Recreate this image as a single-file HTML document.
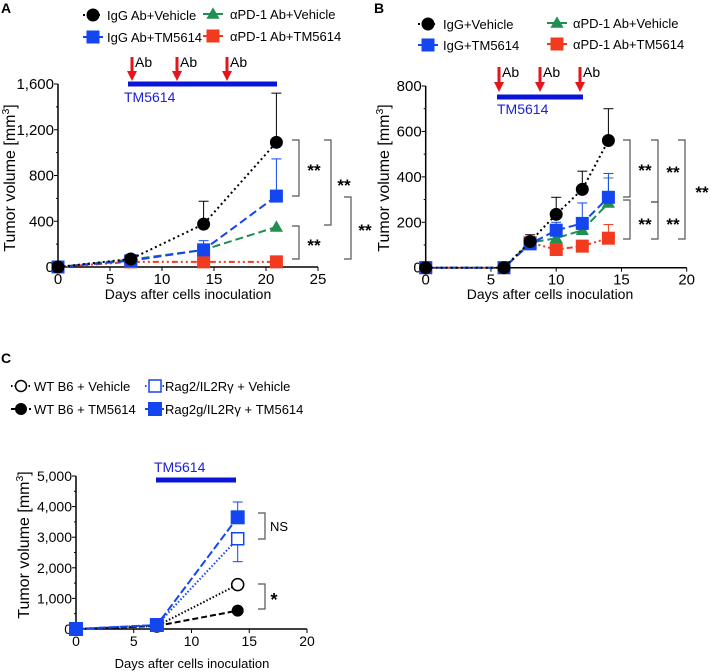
<!DOCTYPE html>
<html><head><meta charset="utf-8"><style>
body{margin:0;background:#fff;}
svg{display:block;font-family:"Liberation Sans",Arial,sans-serif;}
</style></head><body>
<svg id="fig" width="711" height="672" viewBox="0 0 711 672">
</svg>
<script>
// ---------- Panel A data ----------
const daysA = [0, 7, 14, 21];
const igVehA = [0, 70, 375, 1090];
const igVehErrA = [0, 100, 575, 1520];
const igTmA = [0, 55, 150, 620];
const igTmErrA = [0, 60, 230, 945];
const pdVehA = [0, 65, 150, 350];
const pdVehErrA = [0, 70, 160, 350];
const pdTmA = [0, 45, 45, 45];
const pdTmErrA = [0, 45, 45, 45];
const xTicksA = [0, 5, 10, 15, 20, 25];
const yTicksA = [0, 400, 800, 1200, 1600];
const yTickLabelsA = ["0", "400", "800", "1,200", "1,600"];
// ---------- Panel B data ----------
const daysB = [0, 6, 8, 10, 12, 14];
const igVehB = [0, 0, 115, 235, 345, 560];
const igVehErrB = [0, 0, 145, 310, 425, 700];
const igTmB = [0, 0, 105, 165, 195, 310];
const igTmErrB = [0, 0, 105, 200, 285, 415];
const pdVehB = [0, 0, 110, 130, 165, 285];
const pdVehErrB = [0, 0, 110, 130, 165, 395];
const pdTmB = [0, 0, 110, 80, 95, 130];
const pdTmErrB = [0, 0, 110, 80, 95, 190];
const xTicksB = [0, 5, 10, 15, 20];
const yTicksB = [0, 200, 400, 600, 800];
const yTickLabelsB = ["0", "200", "400", "600", "800"];
// ---------- Panel C data ----------
const daysC = [0, 7, 14];
const wtVehC = [0, 100, 1450];
const wtTmC = [0, 100, 600];
const ragVehC = [0, 130, 2950];
const ragVehErrLowC = [0, 130, 2200];
const ragTmC = [0, 130, 3650];
const ragTmErrC = [0, 130, 4150];
const xTicksC = [0, 5, 10, 15, 20];
const yTicksC = [0, 1000, 2000, 3000, 4000, 5000];
const yTickLabelsC = ["0", "1,000", "2,000", "3,000", "4,000", "5,000"];

const svg = document.getElementById('fig');
const NS = 'http://www.w3.org/2000/svg';
function mk(tag, attrs, parent, text) {
  const e = document.createElementNS(NS, tag);
  for (const k in attrs) e.setAttribute(k, attrs[k]);
  if (text !== undefined) e.textContent = text;
  (parent || svg).appendChild(e);
  return e;
}
function lin(d0, d1, r0, r1) { return v => r0 + (v - d0) / (d1 - d0) * (r1 - r0); }

function axes(g, X, Y, xmax, ymax, xTicks, yTicks, yLabels, minor, fs) {
  const x0 = X(0), y0 = Y(0);
  let e = mk('line', {x1: x0, y1: Y(ymax), x2: x0, y2: y0, stroke: '#000', 'stroke-width': 1.5}, g);
  
  
  e = mk('line', {x1: x0, y1: y0, x2: X(xmax), y2: y0, stroke: '#000', 'stroke-width': 1.5}, g);
  
  
  xTicks.forEach(t => {
    mk('line', {x1: X(t), y1: y0, x2: X(t), y2: y0 + 4, stroke: '#000'}, g);
    e = mk('text', {x: X(t), y: y0 + 17, 'text-anchor': 'middle', 'font-size': fs}, g, String(t));
    
    
  });
  yTicks.forEach((t, i) => {
    mk('line', {x1: x0 - 4, y1: Y(t), x2: x0, y2: Y(t), stroke: '#000'}, g);
    if (minor && i < yTicks.length - 1) {
      const m = (t + yTicks[i + 1]) / 2;
      mk('line', {x1: x0 - 2, y1: Y(m), x2: x0, y2: Y(m), stroke: '#000'}, g);
    }
    e = mk('text', {x: x0 - 4, y: Y(t) + 5, 'text-anchor': 'end', 'font-size': fs}, g, yLabels[i]);
    
    
  });
}
function ytitle(g, x, y, fs) {
  const t = mk('text', {x: x, y: y, 'text-anchor': 'middle', 'font-size': fs, transform: `rotate(-90 ${x} ${y})`}, g);
  
  
  t.appendChild(document.createTextNode('Tumor volume [mm'));
  mk('tspan', {'font-size': fs * 0.65, dy: -6}, t, '3');
  mk('tspan', {dy: 6}, t, ']');
}
function xtitle(g, x, y, fs) {
  const e = mk('text', {x: x, y: y, 'text-anchor': 'middle', 'font-size': fs}, g, 'Days after cells inoculation');
  
  
}
function marker(g, kind, x, y, color, s, hollow) {
  let e;
  if (kind === 'c') e = mk('circle', {cx: x, cy: y, r: s, fill: hollow ? '#fff' : color, stroke: color, 'stroke-width': hollow ? 1.5 : 1}, g);
  else if (kind === 's') e = mk('rect', {x: x - s, y: y - s, width: 2 * s, height: 2 * s, fill: hollow ? '#fff' : color, stroke: color, 'stroke-width': hollow ? 1.5 : 1}, g);
  else e = mk('path', {d: `M${x},${y - s * 1.1} L${x + s * 1.1},${y + s * 0.8} L${x - s * 1.1},${y + s * 0.8} Z`, fill: color}, g);
  
  
  return e;
}
function series(g, name, X, Y, xs, ys, errs, color, dash, kind, s, hollow, errLow) {
  const sg = mk('g', {}, g);
  
  
  if (errs) xs.forEach((d, i) => {
    if (errs[i] > ys[i]) {
      mk('line', {x1: X(d), y1: Y(ys[i]), x2: X(d), y2: Y(errs[i]), stroke: color, 'stroke-width': 1}, sg);
      mk('line', {x1: X(d) - 5, y1: Y(errs[i]), x2: X(d) + 5, y2: Y(errs[i]), stroke: color, 'stroke-width': 1}, sg);
    }
  });
  if (errLow) xs.forEach((d, i) => {
    if (errLow[i] < ys[i]) {
      mk('line', {x1: X(d), y1: Y(ys[i]), x2: X(d), y2: Y(errLow[i]), stroke: color, 'stroke-width': 1}, sg);
      mk('line', {x1: X(d) - 5, y1: Y(errLow[i]), x2: X(d) + 5, y2: Y(errLow[i]), stroke: color, 'stroke-width': 1}, sg);
    }
  });
  const pts = xs.map((d, i) => X(d) + ',' + Y(ys[i])).join(' ');
  const l = mk('polyline', {points: pts, fill: 'none', stroke: color, 'stroke-width': 2, 'stroke-dasharray': dash}, sg);
  
  
  xs.forEach((d, i) => marker(sg, kind, X(d), Y(ys[i]), color, s, hollow));
}
function legendEntry(g, name, x, y, label, color, dash, kind, s, hollow, fs, tx) {
  const lg = mk('g', {}, g);
  
  
  mk('line', {x1: x - 10, y1: y, x2: x + 10, y2: y, stroke: color, 'stroke-width': 2, 'stroke-dasharray': dash}, lg);
  marker(lg, kind, x, y, color, s, hollow);
  mk('text', {x: tx || (x + 14), y: y + 5, 'font-size': fs}, lg, label);
}
function bracket(g, x, y1, y2, label, lx, ly, fs) {
  const b = mk('g', {}, g);
  
  
  mk('polyline', {points: `${x - 7},${y1} ${x},${y1} ${x},${y2} ${x - 7},${y2}`, fill: 'none', stroke: '#555', 'stroke-width': 1.2}, b);
  mk('text', {x: lx, y: ly, 'text-anchor': 'middle', 'font-size': fs, 'font-weight': 'bold'}, b, label);
}
function arrow(g, x, y1, y2) {
  const a = mk('g', {}, g);
  
  
  mk('line', {x1: x, y1: y1, x2: x, y2: y2 - 8, stroke: '#e8141c', 'stroke-width': 3}, a);
  mk('path', {d: `M${x - 5},${y2 - 10} L${x + 5},${y2 - 10} L${x},${y2} Z`, fill: '#e8141c'}, a);
  mk('text', {x: x + 3, y: y1 + 10, 'font-size': 14}, a, 'Ab');
}
function tmBar(g, x1, x2, y, tx, ty, fs) {
  const b = mk('g', {}, g);
  
  
  mk('line', {x1: x1, y1: y, x2: x2, y2: y, stroke: '#0a14d8', 'stroke-width': 5}, b);
  mk('text', {x: tx, y: ty, 'font-size': fs, fill: '#1a22d8'}, b, 'TM5614');
}
const BLK = '#000', BLU = '#1446f0', GRN = '#1f8f52', RED = '#f23a1e';

// ---------- Panel A ----------
(function () {
  const g = mk('g', {});  
  const X = lin(0, 25, 58, 318), Y = lin(0, 1600, 267, 84);
  mk('text', {x: 1, y: 13, 'font-size': 14, 'font-weight': 'bold'}, g, 'A');
  axes(g, X, Y, 25, 1600, xTicksA, yTicksA, yTickLabelsA, true, 15);
  ytitle(g, 15, 178, 16); xtitle(g, 188, 299, 14);
  tmBar(g, 128, 277, 84, 124, 102, 14);
  [132, 177, 227].forEach(x => arrow(g, x, 57, 81));
  series(g, 'series-pd1-tm5614', X, Y, daysA, pdTmA, pdTmErrA, RED, '6 3 2 3 2 3', 's', 6);
  series(g, 'series-pd1-vehicle', X, Y, daysA, pdVehA, pdVehErrA, GRN, '8 4', 't', 6);
  series(g, 'series-igg-tm5614', X, Y, daysA, igTmA, igTmErrA, BLU, '8 4', 's', 6);
  series(g, 'series-igg-vehicle', X, Y, daysA, igVehA, igVehErrA, BLK, '2 3', 'c', 6);
  legendEntry(g, 'legend-igg-vehicle', 93, 15, 'IgG Ab+Vehicle', BLK, '2 3', 'c', 6, false, 13, 107);
  legendEntry(g, 'legend-pd1-vehicle', 213, 14, 'αPD-1 Ab+Vehicle', GRN, '8 4', 't', 6, false, 13, 230);
  legendEntry(g, 'legend-igg-tm5614', 93, 37, 'IgG Ab+TM5614', BLU, '8 4', 's', 6, false, 13, 107);
  legendEntry(g, 'legend-pd1-tm5614', 213, 36, 'αPD-1 Ab+TM5614', RED, '6 3 2 3', 's', 6, false, 13, 230);
  bracket(g, 299, 140, 196, '**', 314, 176, 17);
  bracket(g, 331, 140, 225, '**', 344, 191, 17);
  bracket(g, 299, 226, 259, '**', 314, 251, 17);
  bracket(g, 351, 197, 259, '**', 365, 236, 17);
})();

// ---------- Panel B ----------
(function () {
  const g = mk('g', {});  
  const X = lin(0, 20, 425.7, 686.7), Y = lin(0, 800, 267.7, 86);
  mk('text', {x: 374, y: 13, 'font-size': 14, 'font-weight': 'bold'}, g, 'B');
  axes(g, X, Y, 20, 800, xTicksB, yTicksB, yTickLabelsB, true, 15);
  ytitle(g, 389, 178, 16); xtitle(g, 550, 299, 14);
  tmBar(g, 497, 583, 97, 497, 114, 14);
  [499, 540, 580].forEach(x => arrow(g, x, 67, 92));
  series(g, 'series-pd1-tm5614', X, Y, daysB, pdTmB, pdTmErrB, RED, '6 3 2 3 2 3', 's', 6);
  series(g, 'series-pd1-vehicle', X, Y, daysB, pdVehB, pdVehErrB, GRN, '8 4', 't', 6);
  series(g, 'series-igg-tm5614', X, Y, daysB, igTmB, igTmErrB, BLU, '8 4', 's', 6);
  series(g, 'series-igg-vehicle', X, Y, daysB, igVehB, igVehErrB, BLK, '2 3', 'c', 6);
  legendEntry(g, 'legend-igg-vehicle', 428, 24, 'IgG+Vehicle', BLK, '2 3', 'c', 6, false, 13, 443);
  legendEntry(g, 'legend-pd1-vehicle', 557, 23, 'αPD-1 Ab+Vehicle', GRN, '8 4', 't', 6, false, 13, 573);
  legendEntry(g, 'legend-igg-tm5614', 428, 45, 'IgG+TM5614', BLU, '8 4', 's', 6, false, 13, 443);
  legendEntry(g, 'legend-pd1-tm5614', 557, 44, 'αPD-1 Ab+TM5614', RED, '6 3 2 3', 's', 6, false, 13, 573);
  bracket(g, 630, 140, 197, '**', 645, 176, 17);
  bracket(g, 658, 140, 202, '**', 673, 178, 17);
  bracket(g, 685, 140, 239, '**', 702, 198, 17);
  bracket(g, 630, 200, 239, '**', 645, 230, 17);
  bracket(g, 658, 202, 239, '**', 673, 230, 17);
})();

// ---------- Panel C ----------
(function () {
  const g = mk('g', {});  
  const X = lin(0, 20, 76, 307), Y = lin(0, 5000, 629, 476);
  mk('text', {x: 1, y: 363, 'font-size': 14, 'font-weight': 'bold'}, g, 'C');
  axes(g, X, Y, 20, 5000, xTicksC, yTicksC, yTickLabelsC, true, 14);
  ytitle(g, 29, 545, 16); xtitle(g, 192, 668, 13);
  tmBar(g, 156, 236, 480, 154, 472, 14);
  series(g, 'series-wt-tm5614', X, Y, daysC, wtTmC, null, BLK, '6 3', 'c', 5.5);
  series(g, 'series-wt-vehicle', X, Y, daysC, wtVehC, null, BLK, '1.5 2', 'c', 6, true);
  series(g, 'series-rag-vehicle', X, Y, daysC, ragVehC, null, BLU, '1.5 2', 's', 6, true, ragVehErrLowC);
  series(g, 'series-rag-tm5614', X, Y, daysC, ragTmC, ragTmErrC, BLU, '8 3', 's', 6.5);
  legendEntry(g, 'legend-wt-vehicle', 21, 386, 'WT B6 + Vehicle', BLK, '1.5 2', 'c', 5.5, true, 13, 34);
  legendEntry(g, 'legend-rag-vehicle', 155, 386, 'Rag2/IL2Rγ + Vehicle', BLU, '1.5 2', 's', 6, true, 13, 165);
  legendEntry(g, 'legend-wt-tm5614', 21, 409, 'WT B6 + TM5614', BLK, '6 3', 'c', 5.5, false, 13, 34);
  legendEntry(g, 'legend-rag-tm5614', 155, 409, 'Rag2g/IL2Rγ + TM5614', BLU, '8 3', 's', 6.5, false, 13, 165);
  bracket(g, 265, 513, 539, '', 0, 0, 12);
  let t = mk('text', {x: 270, y: 531, 'font-size': 13}, g, 'NS');
   
  bracket(g, 265, 584, 609, '*', 274, 606, 18);
})();
</script>
</body></html>
